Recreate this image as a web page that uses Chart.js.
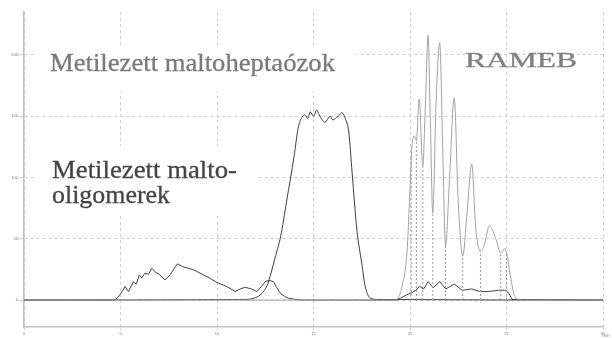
<!DOCTYPE html>
<html>
<head>
<meta charset="utf-8">
<script src="https://cdn.jsdelivr.net/npm/chart.js@4.4.1/dist/chart.umd.min.js"></script>
<style>
  html, body { margin: 0; padding: 0; background: #fff; }
  #wrap { width: 612px; height: 338px; }
</style>
</head>
<body>
<div id="wrap"><canvas id="chromChart"></canvas></div>
<script>
// retention times (min) and detector signal

// methylated malto-oligomers (plus the low trace under RAMEB)
const oligoTimes = [0, 4.7, 4.85, 5.0, 5.24, 5.41, 5.67, 5.81, 5.98, 6.1, 6.27, 6.45, 6.62, 6.79, 7.0, 7.31,
  7.57, 7.8, 7.95, 8.26, 8.5, 8.78, 9.0, 9.3, 9.6, 9.91, 10.2, 10.51, 10.94, 11.2, 11.46, 11.8, 12.07, 12.3,
  12.5, 12.7, 12.93, 13.1, 13.28, 13.5, 13.71, 14.3, 19.3, 19.5, 19.8, 20.1, 20.3, 20.5, 20.7, 20.94, 21.2,
  21.54, 21.85, 22.3, 22.7, 23.2, 23.6, 24.1, 24.6, 24.9, 25.1, 25.3, 30];
const oligoValues = [0, 0, 2, 5, 11, 7, 15, 13, 20.5, 18, 22, 21, 26, 23, 21, 16.4,
  20.5, 26, 29.5, 27, 26, 24.6, 23, 20.5, 18, 15, 13, 11, 7, 9, 10.4, 9, 7, 11,
  15, 16, 15, 10, 5.5, 3, 1.4, 0, 0, 1.5, 4, 6, 8, 11, 9, 15, 10,
  15, 9, 13, 8, 9, 7, 7, 8, 8, 6, 0.5, 0];

// methylated maltoheptaoses
const heptaTimes = [0, 11.5, 12.0, 12.3, 12.6, 12.8, 13.0, 13.3, 13.6, 14.0, 14.2, 14.4, 14.55, 14.7, 14.83,
  15.0, 15.17, 15.3, 15.45, 15.6, 15.75, 15.86, 16.0, 16.2, 16.35, 16.46, 16.65, 16.83, 17.0, 17.25, 17.5,
  17.68, 17.95, 18.3, 30];
const heptaValues = [0, 0.5, 2, 5, 12, 22, 34, 52, 80, 118, 140, 149, 151, 148, 153.5,
  150, 155, 151, 147, 145, 148, 150, 147, 149, 151, 153, 148, 137, 104, 57, 30,
  11, 1.5, 0.5, 0];

// RAMEB
const ramebTimes = [0, 19.2, 19.4, 19.6, 19.84, 20.0, 20.1, 20.22, 20.33, 20.48, 20.66, 20.8, 20.94, 21.05,
  21.18, 21.35, 21.54, 21.7, 21.84, 22.05, 22.29, 22.5, 22.73, 22.95, 23.2, 23.4, 23.65, 23.85, 24.12, 24.3,
  24.43, 24.7, 24.9, 25.05, 25.2, 25.45, 25.8, 30];
const ramebValues = [0, 0, 2, 12, 38, 90, 125, 134, 130, 164, 109, 160, 216, 150,
  71, 160, 210, 120, 44, 100, 165, 80, 35.5, 70, 111, 60, 39.6, 45, 61, 56,
  51, 38.5, 42, 35, 20, 2, 0, 0];

// integration drop lines under RAMEB
const dropTimes = [20.06, 20.33, 20.66, 21.18, 21.84, 22.73, 23.65, 24.7, 25.0];
const dropTops = [118, 130, 109, 71, 44, 35.5, 39.6, 38.5, 38];

const xTicks = [0, 5, 10, 15, 20, 25, 30];
const yTicks = [0, 50, 100, 150, 200];

const toPoints = (xs, ys) => xs.map((x, i) => ({ x: x, y: ys[i] }));

const dropPoints = [];
dropTimes.forEach((t, i) => {
  dropPoints.push({ x: t, y: 0 }, { x: t, y: dropTops[i] }, { x: t, y: null });
});

// labels drawn on the plot, each squeezed to the width it has in the picture
const labelPlugin = {
  id: 'labels',
  beforeDatasetsDraw(chart) {
    const ctx = chart.ctx;
    ctx.save();
    ctx.fillStyle = '#fff';
    ctx.fillRect(36, 45, 320, 47);
    ctx.fillRect(36, 146, 220, 68);
    ctx.restore();
  },
  afterDraw(chart) {
    const ctx = chart.ctx;
    const put = (text, x, y, width, size, color) => {
      ctx.save();
      ctx.font = size + 'px "Liberation Serif", "Times New Roman", serif';
      ctx.fillStyle = color;
      ctx.strokeStyle = color;
      ctx.lineWidth = 0.3;
      ctx.textBaseline = 'alphabetic';
      const w = ctx.measureText(text).width;
      ctx.translate(x, y);
      ctx.scale(width / w, 1);
      ctx.fillText(text, 0, 0);
      ctx.strokeText(text, 0, 0);
      ctx.restore();
    };
    put('Metilezett maltoheptaózok', 50, 71, 285, 25, '#7a7a7a');
    put('RAMEB', 465, 67, 112, 21, '#808080');
    put('Metilezett malto-', 52, 178, 185, 25, '#454545');
    put('oligomerek', 52, 203, 118, 25, '#454545');

    ctx.save();
    ctx.font = '4px "DejaVu Sans", sans-serif';
    ctx.fillStyle = '#777';
    ctx.textAlign = 'center';
    ctx.fillText('min', 606, 337);
    ctx.restore();
  }
};

const config = {
  type: 'line',
  data: {
    datasets: [
      {
        label: 'RAMEB',
        data: toPoints(ramebTimes, ramebValues),
        borderColor: '#a2a2a2',
        borderWidth: 1,
        cubicInterpolationMode: 'monotone'
      },
      {
        label: 'drop lines',
        data: dropPoints,
        borderColor: '#9a9a9a',
        borderWidth: 1,
        borderDash: [2, 2],
        spanGaps: false
      },
      {
        label: 'maltoheptaozok',
        data: toPoints(heptaTimes, heptaValues),
        borderColor: '#3c3c3c',
        borderWidth: 1,
        cubicInterpolationMode: 'monotone'
      },
      {
        label: 'malto-oligomerek',
        data: toPoints(oligoTimes, oligoValues),
        borderColor: '#444',
        borderWidth: 1
      }
    ]
  },
  options: {
    responsive: true,
    maintainAspectRatio: false,
    animation: false,
    elements: { point: { radius: 0 } },
    layout: { padding: { top: 12, right: 9, left: 0, bottom: 0 } },
    plugins: { legend: { display: false }, tooltip: { enabled: false } },
    scales: {
      x: {
        type: 'linear',
        min: 0,
        max: 30,
        afterBuildTicks: s => { s.ticks = xTicks.map(v => ({ value: v })); },
        afterFit: s => { s.height = 11; },
        grid: { color: '#cfcfcf', tickLength: 3, lineWidth: 1 },
        border: { color: '#c4c4c4', width: 1.5, dash: [3, 3] },
        ticks: { font: { size: 4 }, color: '#777', padding: 1, maxRotation: 0 }
      },
      y: {
        min: -22,
        max: 235,
        afterBuildTicks: s => { s.ticks = yTicks.map(v => ({ value: v })); },
        afterFit: s => { s.width = 24; },
        grid: { color: '#cfcfcf', tickLength: 5, lineWidth: 1 },
        border: { color: '#bdbdbd', width: 1.5, dash: [3, 3] },
        ticks: { font: { size: 4 }, color: '#777', padding: 1 }
      }
    }
  },
  plugins: [labelPlugin]
};

new Chart(document.getElementById('chromChart'), config);
</script>
</body>
</html>
